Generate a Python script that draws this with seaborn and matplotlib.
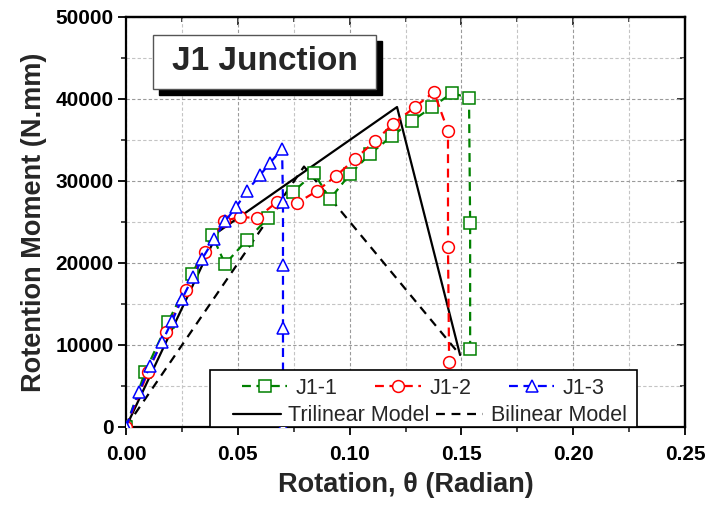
import matplotlib
matplotlib.use("Agg")
import matplotlib.pyplot as plt
import matplotlib.patheffects as pe
from matplotlib.patches import Rectangle
from matplotlib.ticker import MultipleLocator, FormatStrFormatter
import seaborn as sns
import numpy as np

# ---- data ----
j1_1_x = [0, 0.0085, 0.0188, 0.0295, 0.0385, 0.0443, 0.0541, 0.0635, 0.0747, 0.0841,
          0.0912, 0.1002, 0.1091, 0.1190, 0.1279, 0.1369, 0.1458, 0.1534, 0.1539, 0.1539]
j1_1_y = [0, 6700, 12800, 18660, 23400, 19880, 22800, 25490, 28660, 30980,
          27800, 30850, 33290, 35490, 37320, 39020, 40730, 40120, 24880, 9510]

j1_2_x = [0, 0.0098, 0.0179, 0.0268, 0.0353, 0.0438, 0.0510, 0.0586, 0.0675, 0.0765,
          0.0854, 0.0939, 0.1024, 0.1114, 0.1194, 0.1292, 0.1377, 0.1440, 0.1440, 0.1445]
j1_2_y = [0, 6700, 11590, 16700, 21340, 25120, 25610, 25490, 27440, 27320,
          28780, 30610, 32680, 34880, 36950, 39020, 40850, 36100, 21950, 7930]

j1_3_x = [0, 0.0058, 0.0107, 0.0161, 0.0206, 0.0250, 0.0300, 0.0340, 0.0394, 0.0443,
          0.0492, 0.0541, 0.0599, 0.0644, 0.0698, 0.0702, 0.0702, 0.0702, 0.0702]
j1_3_y = [0, 4270, 7440, 10370, 12930, 15600, 18300, 20500, 22900, 25100,
          26800, 28800, 30700, 32200, 33900, 27400, 19750, 12070, 0]

tri_x = [0, 0.0411, 0.1212, 0.1494]
tri_y = [0, 23780, 39020, 8780]

bi_x = [0, 0.0796, 0.1494]
bi_y = [0, 31760, 8780]

series_labels = ["J1-1", "J1-2", "J1-3"]
model_labels = ["Trilinear Model", "Bilinear Model"]
title_text = "J1 Junction"
x_label = "Rotation, \u03b8 (Radian)"
y_label = "Rotention Moment (N.mm)"

# ---- style ----
sns.set_style("ticks")
plt.rcParams["font.family"] = ["Liberation Sans", "DejaVu Sans"]

fig = plt.figure(figsize=(7.1, 5.15), dpi=100)
ax = fig.add_axes([0.1775, 0.1709, 0.7873, 0.7961])

col_dash = (0, (4, 2.5))
specs = [
    (j1_1_x, j1_1_y, "#008000", "s", 8.0),
    (j1_2_x, j1_2_y, "#ff0000", "o", 8.5),
    (j1_3_x, j1_3_y, "#0000ff", "^", 9.0),
]
for (xs, ys, c, m, ms), lab in zip(specs, series_labels):
    sns.lineplot(x=xs, y=ys, ax=ax, sort=False, estimator=None, color=c,
                 linestyle=col_dash, linewidth=1.6, marker=m, markersize=ms,
                 markerfacecolor="white", markeredgecolor=c, markeredgewidth=1.1,
                 label=lab, zorder=3)

sns.lineplot(x=tri_x, y=tri_y, ax=ax, sort=False, estimator=None, color="black",
             linewidth=1.6, linestyle="-", label=model_labels[0], zorder=2.5)
sns.lineplot(x=bi_x, y=bi_y, ax=ax, sort=False, estimator=None, color="black",
             linewidth=1.6, linestyle=(0, (4, 3)), label=model_labels[1], zorder=2.5)

ax.set_xlim(0, 0.25)
ax.set_ylim(0, 50000)
ax.xaxis.set_major_locator(MultipleLocator(0.05))
ax.xaxis.set_minor_locator(MultipleLocator(0.025))
ax.yaxis.set_major_locator(MultipleLocator(10000))
ax.yaxis.set_minor_locator(MultipleLocator(5000))
ax.xaxis.set_major_formatter(FormatStrFormatter("%.2f"))
ax.yaxis.set_major_formatter(FormatStrFormatter("%d"))

ax.set_axisbelow(True)
ax.grid(which="major", color="#9a9a9a", linestyle=(0, (3, 2)), linewidth=0.8)
ax.grid(which="minor", color="#c4c4c4", linestyle=(0, (3, 2)), linewidth=0.8)

for s in ax.spines.values():
    s.set_visible(True)
    s.set_linewidth(1.6)
    s.set_color("black")

ax.tick_params(which="major", direction="out", length=6, width=1.3, labelsize=15,
               colors="black")
ax.tick_params(which="minor", direction="out", length=3.5, width=1.2)
ax.tick_params(axis="x", which="major", pad=7)
ax.tick_params(axis="y", which="major", pad=3)
for lbl in ax.get_xticklabels() + ax.get_yticklabels():
    lbl.set_fontweight("bold")

# mirrored inward ticks on top and right
sec_x = ax.secondary_xaxis("top")
sec_x.xaxis.set_major_locator(MultipleLocator(0.05))
sec_x.xaxis.set_minor_locator(MultipleLocator(0.025))
sec_x.tick_params(which="major", direction="in", length=6, width=1.3, labeltop=False)
sec_x.tick_params(which="minor", direction="in", length=3.5, width=1.2)
sec_x.spines["top"].set_linewidth(1.6)
sec_y = ax.secondary_yaxis("right")
sec_y.yaxis.set_major_locator(MultipleLocator(10000))
sec_y.yaxis.set_minor_locator(MultipleLocator(5000))
sec_y.tick_params(which="major", direction="in", length=6, width=1.3, labelright=False)
sec_y.tick_params(which="minor", direction="in", length=3.5, width=1.2)
sec_y.spines["right"].set_linewidth(1.6)

ax.set_xlabel(x_label, fontsize=19.5, fontweight="bold", labelpad=6)
ax.set_ylabel(y_label, fontsize=19.5, fontweight="bold", labelpad=6)

# title box with shadow
ax.add_patch(Rectangle((0.0590, 0.8098), 0.3989, 0.1317, transform=ax.transAxes,
                       facecolor="black", edgecolor="black", zorder=6, clip_on=False))
ax.add_patch(Rectangle((0.0483, 0.8244), 0.3989, 0.1317, transform=ax.transAxes,
                       facecolor="white", edgecolor="#555555", linewidth=1.0,
                       zorder=7, clip_on=False))
ax.text(0.2478, 0.8905, title_text, transform=ax.transAxes, ha="center", va="center",
        fontsize=24, fontweight="bold", zorder=8)

# legend
handles, labels = ax.get_legend_handles_labels()
hmap = dict(zip(labels, handles))
if ax.get_legend() is not None:
    ax.get_legend().remove()
ax.add_patch(Rectangle((0.150, 0.0), 0.764, 0.139, transform=ax.transAxes,
                       facecolor="white", edgecolor="black", linewidth=1.2, zorder=9))
leg1 = ax.legend([hmap[l] for l in series_labels], series_labels, ncol=3,
                 loc="center", bbox_to_anchor=(0.532, 0.095), frameon=False,
                 fontsize=15.5, handlelength=2.1, handletextpad=0.4,
                 columnspacing=1.75, borderpad=0, borderaxespad=0)
leg1.set_zorder(10)
ax.add_artist(leg1)
leg2 = ax.legend([hmap[l] for l in model_labels], model_labels, ncol=2,
                 loc="center", bbox_to_anchor=(0.544, 0.027), frameon=False,
                 fontsize=15.5, handlelength=2.2, handletextpad=0.35,
                 columnspacing=0.3, borderpad=0, borderaxespad=0)
leg2.set_zorder(10)

fig.savefig("out.png", dpi=100)
